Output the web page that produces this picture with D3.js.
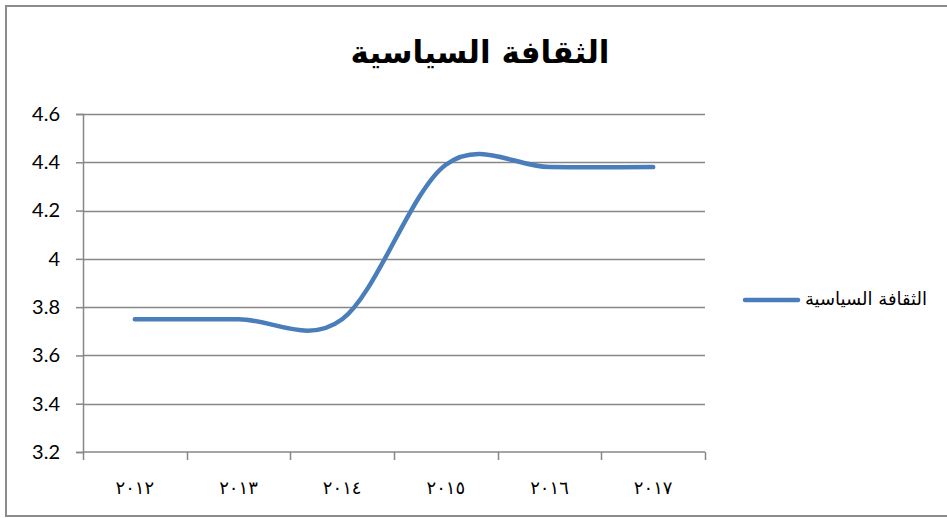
<!DOCTYPE html>
<html>
<head>
<meta charset="utf-8">
<script src="https://cdn.jsdelivr.net/npm/d3@7"></script>
<style>
  html, body { margin: 0; padding: 0; background: #fff; }
  svg { display: block; }
</style>
</head>
<body>
<script>
// Chart data
const chartTitle = "الثقافة السياسية";
const seriesName = "الثقافة السياسية";
const years = ["٢٠١٢", "٢٠١٣", "٢٠١٤", "٢٠١٥", "٢٠١٦", "٢٠١٧"];
const values = [3.75, 3.75, 3.75, 4.39, 4.38, 4.38];
const yTicks = [3.2, 3.4, 3.6, 3.8, 4.0, 4.2, 4.4, 4.6];

const W = 947, H = 518;
const margin = { left: 83, right: 242, top: 114, bottom: 66 };
const lineColor = "#4a7ebb";
const gridColor = "#878787";

const svg = d3.select("body").append("svg")
  .attr("width", W).attr("height", H);

// Outer frame
svg.append("rect")
  .attr("x", 6).attr("y", 6)
  .attr("width", W + 10).attr("height", 510)
  .attr("fill", "#fff")
  .attr("stroke", "#8c8c8c").attr("stroke-width", 2);

const x = d3.scaleBand()
  .domain(years)
  .range([margin.left, W - margin.right]);

const y = d3.scaleLinear()
  .domain([3.2, 4.6])
  .range([H - margin.bottom, margin.top]);

// Horizontal gridlines
svg.append("g")
  .selectAll("line")
  .data(yTicks.slice(1))
  .join("line")
  .attr("x1", margin.left).attr("x2", W - margin.right)
  .attr("y1", d => Math.round(y(d)) + 0.5).attr("y2", d => Math.round(y(d)) + 0.5)
  .attr("stroke", gridColor).attr("stroke-width", 1.5);

// Y axis
const yAxis = svg.append("g")
  .attr("transform", `translate(${margin.left},0)`)
  .call(d3.axisLeft(y).tickValues(yTicks).tickSize(7).tickPadding(16)
    .tickFormat(d => d3.format("")(+d.toFixed(1))));
yAxis.select(".domain").attr("stroke", gridColor).attr("stroke-width", 1.5);
yAxis.selectAll(".tick line").attr("stroke", gridColor).attr("stroke-width", 1.5);
yAxis.selectAll(".tick text")
  .attr("fill", "#000")
  .style("font-family", "Lato, 'Open Sans', sans-serif")
  .style("font-size", "20px");

// X axis with ticks between categories
const xAxisG = svg.append("g")
  .attr("transform", `translate(0,${H - margin.bottom})`);
xAxisG.append("line")
  .attr("x1", margin.left).attr("x2", W - margin.right)
  .attr("y1", 0).attr("y2", 0)
  .attr("stroke", gridColor).attr("stroke-width", 1.5);
const boundaries = years.map(d => x(d)).concat([x(years[years.length - 1]) + x.bandwidth()]);
xAxisG.selectAll("line.tk")
  .data(boundaries)
  .join("line")
  .attr("class", "tk")
  .attr("x1", d => Math.round(d) + 0.5).attr("x2", d => Math.round(d) + 0.5)
  .attr("y1", 0).attr("y2", 8)
  .attr("stroke", gridColor).attr("stroke-width", 1.5);
xAxisG.selectAll("text")
  .data(years)
  .join("text")
  .attr("x", d => x(d) + x.bandwidth() / 2)
  .attr("y", 42)
  .attr("text-anchor", "middle")
  .attr("fill", "#000")
  .style("font-family", "'DejaVu Sans', serif")
  .style("font-size", "18px")
  .style("letter-spacing", "4px")
  .text(d => d);

// Smoothed series line
const line = d3.line()
  .x((d, i) => x(years[i]) + x.bandwidth() / 2)
  .y(d => y(d))
  .curve(d3.curveCatmullRom.alpha(0));

svg.append("path")
  .datum(values)
  .attr("d", line)
  .attr("fill", "none")
  .attr("stroke", lineColor)
  .attr("stroke-width", 4.5)
  .attr("stroke-linecap", "round")
  .attr("stroke-linejoin", "round");

// Title
svg.append("text")
  .attr("x", 480).attr("y", 63)
  .attr("text-anchor", "middle")
  .attr("fill", "#000")
  .style("font-family", "'DejaVu Sans', sans-serif")
  .style("font-weight", "bold")
  .style("font-size", "31px")
  .text(chartTitle);

// Legend
const legend = svg.append("g").attr("transform", "translate(745,300)");
legend.append("line")
  .attr("x1", 0).attr("x2", 53)
  .attr("y1", 0).attr("y2", 0)
  .attr("stroke", lineColor).attr("stroke-width", 4.5)
  .attr("stroke-linecap", "round");
legend.append("text")
  .attr("x", 182).attr("y", 5)
  .attr("text-anchor", "end")
  .attr("fill", "#000")
  .style("font-family", "'DejaVu Sans', sans-serif")
  .style("font-size", "18px")
  .text(seriesName);
</script>
</body>
</html>
